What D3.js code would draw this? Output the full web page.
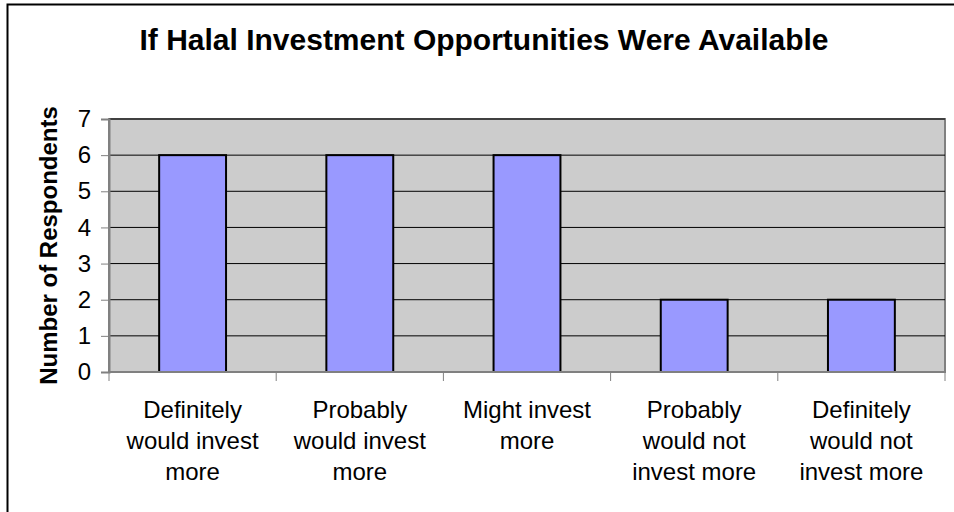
<!DOCTYPE html>
<html>
<head>
<meta charset="utf-8">
<script src="https://cdn.jsdelivr.net/npm/d3@7"></script>
<style>
  body { margin: 0; background: #fff; }
  svg { display: block; font-family: Arial, "Liberation Sans", sans-serif; }
</style>
</head>
<body>
<svg id="chart" width="954" height="512"></svg>
<script>
// data
var categories = [
  ['Definitely', 'would invest', 'more'],
  ['Probably', 'would invest', 'more'],
  ['Might invest', 'more'],
  ['Probably', 'would not', 'invest more'],
  ['Definitely', 'would not', 'invest more']
]
var respondents = [6, 6, 6, 2, 2]
var yTicks = [0, 1, 2, 3, 4, 5, 6, 7]

var svg = d3.select('#chart')
var plotL = 109, plotR = 945, plotT = 119, plotB = 372

// outer frame (runs off the right and bottom edges)
svg.append('rect').attr('x', 7.5).attr('y', 4.5).attr('width', 960).attr('height', 520)
  .attr('fill', '#fff').attr('stroke', '#000').attr('stroke-width', 2)

var idx = categories.map(function (d, i) { return i })
var x = d3.scaleBand().domain(idx).range([plotL, plotR]).paddingInner(0.6).paddingOuter(0.3)
var xo = d3.scaleBand().domain(idx).range([plotL, plotR])
var y = d3.scaleLinear().domain([0, 7]).range([plotB, plotT])

// plot area
svg.append('rect').attr('x', plotL).attr('y', plotT).attr('width', plotR - plotL).attr('height', plotB - plotT)
  .attr('fill', '#CCCCCC').attr('stroke', '#808080').attr('stroke-width', 2)

// gridlines
svg.append('g').selectAll('line').data(yTicks.slice(1)).enter().append('line')
  .attr('x1', plotL).attr('x2', plotR)
  .attr('y1', function (d) { return y(d) }).attr('y2', function (d) { return y(d) })
  .attr('stroke', '#000').attr('stroke-width', 1)

// bars
svg.append('g').selectAll('rect').data(respondents).enter().append('rect')
  .attr('x', function (d, i) { return x(i) })
  .attr('y', function (d) { return y(d) })
  .attr('width', x.bandwidth())
  .attr('height', function (d) { return y(0) - y(d) })
  .attr('fill', '#9999FF').attr('stroke', '#000').attr('stroke-width', 2)

// y axis
var yAxis = svg.append('g').attr('transform', 'translate(' + plotL + ',0)')
  .call(d3.axisLeft(y).tickValues(yTicks).tickSize(8).tickPadding(10).tickFormat(d3.format('d')))
yAxis.select('.domain').attr('stroke', '#808080').attr('stroke-width', 2)
yAxis.selectAll('.tick line').attr('stroke', '#808080')
yAxis.selectAll('text').attr('font-size', 24).attr('fill', '#000').attr('font-family', 'Arial, "Liberation Sans", sans-serif')

// x axis: ticks on category boundaries
var xBounds = idx.map(function (i) { return xo(i) }).concat([plotR])
svg.append('line').attr('x1', plotL).attr('x2', plotR).attr('y1', plotB).attr('y2', plotB)
  .attr('stroke', '#808080').attr('stroke-width', 2)
svg.append('g').selectAll('line').data(xBounds).enter().append('line')
  .attr('x1', function (d) { return d }).attr('x2', function (d) { return d })
  .attr('y1', plotB).attr('y2', plotB + 9)
  .attr('stroke', '#808080').attr('stroke-width', 1)

// category labels
var labels = svg.append('g').selectAll('text').data(categories).enter().append('text')
  .attr('text-anchor', 'middle').attr('font-size', 24).attr('fill', '#000')
  .attr('x', function (d, i) { return xo(i) + xo.bandwidth() / 2 })
  .attr('y', 418)
labels.selectAll('tspan').data(function (d) { return d }).enter().append('tspan')
  .attr('x', function () { return d3.select(this.parentNode).attr('x') })
  .attr('dy', function (d, i) { return i === 0 ? 0 : 31 })
  .text(function (d) { return d })

// y title
svg.append('text').attr('transform', 'translate(57,' + (plotT + plotB) / 2 + ') rotate(-90)')
  .attr('text-anchor', 'middle').attr('font-size', 24).attr('font-weight', 'bold')
  .text('Number of Respondents')

// chart title
svg.append('text').attr('x', 484).attr('y', 50).attr('text-anchor', 'middle')
  .attr('font-size', 30).attr('font-weight', 'bold')
  .text('If Halal Investment Opportunities Were Available')
</script>
</body>
</html>
